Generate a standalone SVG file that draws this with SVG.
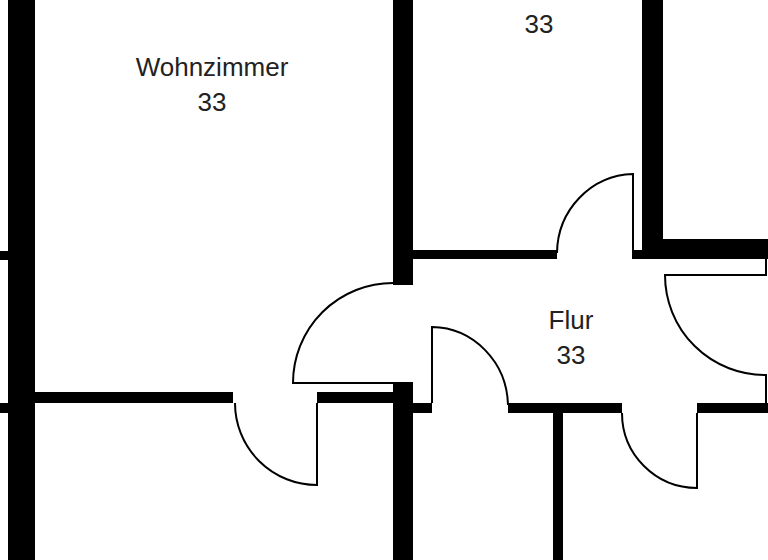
<svg xmlns="http://www.w3.org/2000/svg" width="768" height="560" viewBox="0 0 768 560">
<style>
.w{fill:#000}
.d{fill:none;stroke:#000;stroke-width:2}
.t{font-family:"Liberation Sans",Arial,sans-serif;font-size:26px;fill:#222;text-anchor:middle}
</style>
<rect width="768" height="560" fill="#fff"/>
<g id="walls">
<rect class="w" x="8" y="0" width="27" height="560"/>
<rect class="w" x="0" y="251" width="8" height="9"/>
<rect class="w" x="0" y="403" width="8" height="10"/>
<rect class="w" x="35" y="392" width="198" height="11"/>
<rect class="w" x="317" y="392" width="76" height="11"/>
<rect class="w" x="393" y="0" width="20" height="285"/>
<rect class="w" x="393" y="382" width="20" height="178"/>
<rect class="w" x="413" y="250" width="144" height="9"/>
<rect class="w" x="633" y="250" width="10" height="9"/>
<rect class="w" x="642" y="0" width="21" height="259"/>
<rect class="w" x="642" y="239" width="126" height="20"/>
<rect class="w" x="413" y="403" width="19" height="10"/>
<rect class="w" x="508" y="403" width="114" height="10"/>
<rect class="w" x="697" y="403" width="71" height="10"/>
<rect class="w" x="553" y="403" width="10" height="157"/>
</g>
<g id="doors">
<path class="d" d="M317 403 V485 A82 82 0 0 1 235 403"/>
<path class="d" d="M393 383 H293 A100 100 0 0 1 393 283"/>
<path class="d" d="M633 259 V174 A78 80 0 0 0 557 253"/>
<path class="d" d="M766 259 V275 H665 A100 100 0 0 0 766 375 V403"/>
<path class="d" d="M432 403 V327 A77 80 0 0 1 508 405"/>
<path class="d" d="M697 413 V488 A75 75 0 0 1 622 413"/>
</g>
<g id="labels">
<text class="t" x="212" y="76">Wohnzimmer</text>
<text class="t" x="212" y="111">33</text>
<text class="t" x="539" y="33">33</text>
<text class="t" x="571" y="329">Flur</text>
<text class="t" x="571" y="364">33</text>
</g>
</svg>
